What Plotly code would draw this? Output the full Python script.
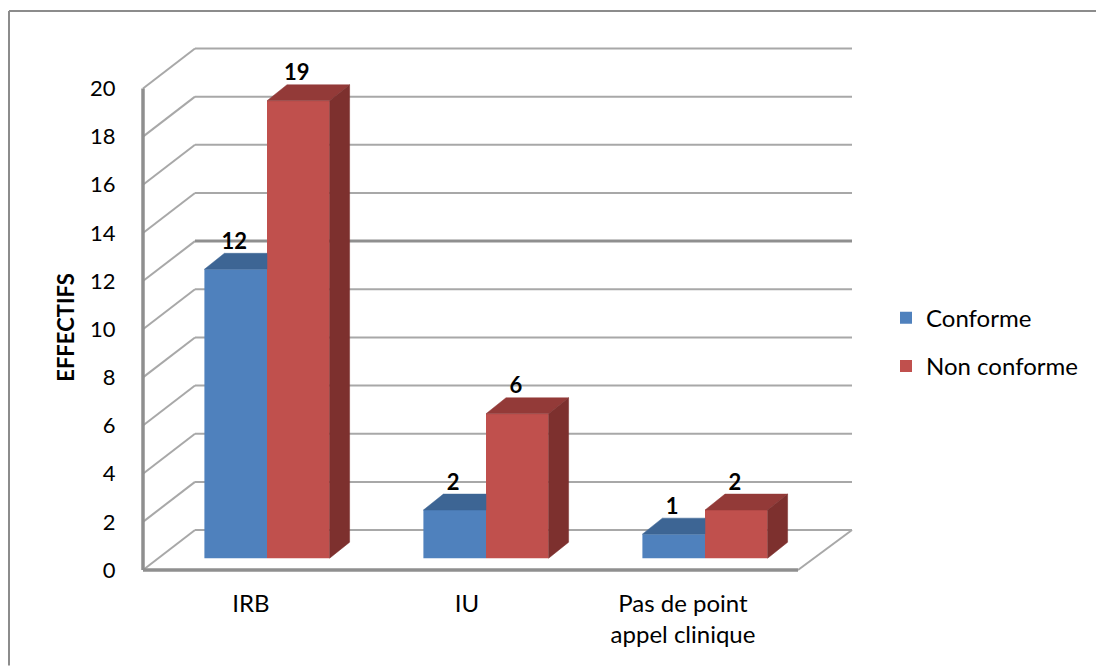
import plotly.graph_objects as go

categories = ["IRB", "IU", "Pas de point<br>appel clinique"]
conforme = [12, 2, 1]
non_conforme = [19, 6, 2]
y_ticks = list(range(0, 21, 2))

WIDTH, HEIGHT = 1096, 666
PAD = 6  # plot area is a little larger than the chart box so edge lines are not clipped
BOX_L, BOX_R, BOX_T, BOX_B = 143, 852, 49, 570.5
PX_L, PX_R, PX_T, PX_B = BOX_L - PAD, BOX_R + PAD, BOX_T - PAD, BOX_B + PAD
CAT_PX, UNIT_PX = 219, 24.1
FONT = "Lato"
GRID, AXIS, BORDER = "#A8A8A8", "#8F8F8F", "#8C8C8C"

xmin, xmax = -PAD / CAT_PX, (BOX_R - BOX_L + PAD) / CAT_PX
ymin, ymax = -PAD / UNIT_PX, (BOX_B - BOX_T + PAD) / UNIT_PX
box_r = (BOX_R - BOX_L) / CAT_PX
floor_end = 655 / CAT_PX
wall_dx, wall_dy = 52 / CAT_PX, 40 / UNIT_PX      # depth of the whole chart box
bar_dx0, bar_dy0 = 14.5 / CAT_PX, 11.8 / UNIT_PX  # where bars' front face sits in the box
bar_ddx, bar_ddy = 20 / CAT_PX, 16 / UNIT_PX      # depth of a bar
bar_w = 62.6 / CAT_PX
tick_pos = [(108 + 216 * i) / CAT_PX for i in range(3)]

def px(v):
    return (v - PX_L) / (PX_R - PX_L)

def py(v):
    return (PX_B - v) / (PX_B - PX_T)

shapes = []
def seg(x0, y0, x1, y1, color=GRID, width=2):
    shapes.append(dict(type="line", layer="below", xref="x", yref="y", x0=x0, y0=y0, x1=x1, y1=y1,
                       line=dict(color=color, width=width)))

for t in y_ticks:
    seg(0, t, wall_dx, t + wall_dy)
    seg(wall_dx, t + wall_dy, box_r, t + wall_dy, color="#8F8F8F" if t == 12 else GRID, width=3 if t == 12 else 2)
seg(floor_end, 0, box_r, wall_dy)
seg(0, 0, 0, y_ticks[-1], AXIS, 3.5)
seg(0, 0, floor_end, 0, AXIS, 3.5)

# outer frame: left and top only, running to the picture's edge
shapes.append(dict(type="line", xref="paper", yref="paper", x0=px(9), x1=px(9), y0=py(11), y1=py(HEIGHT),
                   line=dict(color=BORDER, width=2)))
shapes.append(dict(type="line", xref="paper", yref="paper", x0=px(9), x1=px(WIDTH), y0=py(11), y1=py(11),
                   line=dict(color=BORDER, width=2)))

centers_blue = [i + 0.5 + bar_dx0 - bar_w / 2 for i in range(3)]
centers_red = [i + 0.5 + bar_dx0 + bar_w / 2 for i in range(3)]

fig = go.Figure()
fig.add_bar(x=centers_blue, y=conforme, base=bar_dy0, width=bar_w, name="Conforme",
            marker=dict(color="#4F81BD", line_width=0), legendgroup="a")
fig.add_bar(x=centers_red, y=non_conforme, base=bar_dy0, width=bar_w, name="Non conforme",
            marker=dict(color="#C0504D", line_width=0), legendgroup="b")

def poly(xs, ys, color):
    fig.add_scatter(x=xs, y=ys, mode="lines", fill="toself", fillcolor=color, line=dict(color=color, width=0.5),
                    showlegend=False, hoverinfo="skip")

for c, v in zip(centers_blue, conforme):
    l, r, t = c - bar_w / 2, c + bar_w / 2, v + bar_dy0
    # top face, stops where the red bar in front of it starts
    poly([l, l + bar_ddx, r, r, l], [t, t + bar_ddy, t + bar_ddy, t, t], "#3D6594")

for c, v in zip(centers_red, non_conforme):
    l, r, t = c - bar_w / 2, c + bar_w / 2, v + bar_dy0
    poly([l, l + bar_ddx, r + bar_ddx, r, l], [t, t + bar_ddy, t + bar_ddy, t, t], "#933A38")
    poly([r, r + bar_ddx, r + bar_ddx, r, r],
         [t, t + bar_ddy, bar_dy0 + bar_ddy, bar_dy0, t], "#7D302E")

label_gap = 26 / UNIT_PX
label_dx = -1.5 / CAT_PX
fig.add_scatter(x=[c + label_dx for c in centers_blue + centers_red],
                y=[v + bar_dy0 + label_gap for v in conforme + non_conforme],
                text=[str(v) for v in conforme + non_conforme],
                mode="text", textposition="middle center",
                textfont=dict(family=FONT, size=22, color="black", weight="bold"),
                showlegend=False, hoverinfo="skip")

fig.update_layout(
    width=WIDTH, height=HEIGHT,
    margin=dict(l=PX_L, r=WIDTH - PX_R, t=PX_T, b=HEIGHT - PX_B, pad=0),
    paper_bgcolor="white", plot_bgcolor="rgba(0,0,0,0)",
    barmode="overlay", shapes=shapes,
    font=dict(family=FONT, size=24, color="black"),
    xaxis=dict(range=[xmin, xmax], tickmode="array", tickvals=tick_pos, ticktext=categories,
               showgrid=False, zeroline=False, showline=False, ticks="outside", ticklen=6,
               tickcolor="rgba(0,0,0,0)", tickangle=0, tickfont=dict(family=FONT, size=24)),
    yaxis=dict(range=[ymin, ymax], tickmode="array", tickvals=y_ticks, showgrid=False, zeroline=False,
               showline=False, ticks="outside", ticklen=16, tickcolor="rgba(0,0,0,0)",
               tickfont=dict(family=FONT, size=22)),
    legend=dict(x=px(886), y=py(296), xanchor="left", yanchor="top", tracegroupgap=14,
                bgcolor="rgba(0,0,0,0)", font=dict(family=FONT, size=24), traceorder="grouped"),
    annotations=[dict(text="<b>EFFECTIFS</b>", textangle=-90, xref="paper", yref="paper",
                      x=px(66), y=py(328), xanchor="center", yanchor="middle", showarrow=False,
                      font=dict(family=FONT, size=22, color="black"))],
)

fig.write_html("out.html", config=dict(displayModeBar=False),
               post_script="document.body.style.margin='0';")
